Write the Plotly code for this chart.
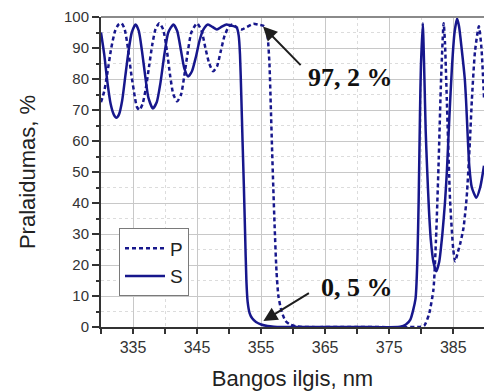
import plotly.graph_objects as go

# ---- data ----
p_x = [330.0, 330.5, 331.0, 331.6, 332.2, 332.7, 333.2, 333.7, 334.2, 334.7, 335.3, 335.6, 336.0, 336.5,
       337.0, 337.5, 338.0, 338.5, 339.1, 339.7, 340.3, 340.8, 341.3, 341.9, 342.5, 343.0, 343.5, 344.1,
       345.0, 345.7, 346.3, 346.9, 347.5, 348.1, 348.7, 349.3, 350.0, 350.6, 351.3, 352.0, 352.8, 353.8,
       354.6, 355.3, 355.7, 356.0, 356.3, 356.5, 356.7, 356.9, 357.1, 357.4, 357.7, 358.2, 358.8, 359.5,
       360.5, 361.5, 370.0, 380.0, 380.5, 381.2, 381.9, 382.3, 382.7, 383.1, 383.5, 383.7,
       384.0, 384.5, 385.0, 385.3, 385.7, 386.1, 386.6, 387.1, 387.6, 387.9, 388.4, 389.0, 389.4,
       389.8]
p_y = [72.5, 76, 82, 90, 95.5, 97.5, 98, 96, 90, 82, 74, 71, 70, 72,
       77, 84, 91, 96, 98, 96, 89, 81, 75, 72.8, 75, 81, 88, 95,
       98, 95.5, 90, 85, 82.5, 84, 89, 94, 97, 97.6, 96.5, 96, 96.8, 97.8,
       97.5, 97.2, 96.5, 94, 85, 72, 58, 45, 33, 18, 10, 5, 2, 0.8,
       0.2, 0, 0, 0.1, 0.5, 4, 12, 28, 52, 80, 98, 92,
       73, 41, 25, 21.2, 24, 27, 32, 42, 60, 73, 89, 97, 90,
       74]

s_x = [330.0, 330.5, 331.0, 331.5, 332.0, 332.4, 332.8, 333.3, 333.8, 334.3, 334.8, 335.4, 335.9, 336.4,
       336.9, 337.4, 338.1, 338.7, 339.3, 339.9, 340.5, 341.3, 341.9, 342.5, 343.0, 343.6, 344.2, 344.8,
       345.4, 346.0, 346.7, 347.4, 348.1, 348.8, 349.6, 350.3, 350.8, 351.2, 351.5, 351.7, 351.9, 352.1,
       352.3, 352.5, 352.7, 352.9, 353.2, 353.6, 354.2, 355.0, 356.0, 357.0, 358.0, 370.0, 376.7, 377.6,
       378.3, 379.1, 379.4, 379.6, 379.8, 379.95, 380.25, 380.35, 380.5, 380.7, 380.9, 381.2, 381.5,
       381.9, 382.35, 382.8, 383.3, 383.7, 384.0, 384.4, 384.8, 385.2, 385.6, 385.9, 386.3, 386.8, 387.0,
       387.5, 387.9, 388.6, 389.2, 389.8]
s_y = [95, 88, 79, 72, 68.5, 67.5, 68.5, 73, 81, 89, 95, 97.6, 95.5, 89,
       81, 74, 70.5, 72.5, 79, 88, 95, 97.6, 95.5, 89, 83.5, 80.8, 82.5, 87,
       92.5, 96, 97.6, 96.8, 96, 96.8, 97.6, 97.2, 97, 96.5, 94, 88, 75, 60,
       46, 30, 15, 8, 4.5, 2.8, 1.6, 0.8, 0.3, 0.1, 0, 0, 0.1, 0.8,
       2.4, 9, 22, 41, 68, 84, 98, 92, 80, 63, 52, 38, 28,
       21, 18, 21, 30, 40, 50, 68, 84, 95, 99.5, 97, 90, 80, 73,
       52, 45, 41.7, 45, 52]

x_ticks = [335, 345, 355, 365, 375, 385]
y_ticks = [0, 10, 20, 30, 40, 50, 60, 70, 80, 90, 100]

peak_label = "97, 2 %"
peak_head = (355.3, 96.9)
peak_tail = (361.4, 84.0)
peak_text_pos = (368.9, 80.5)

min_label = "0, 5 %"
min_head = (355.35, 1.9)
min_tail = (362.7, 11.2)
min_text_pos = (370.0, 12.7)

x_title = "Bangos ilgis, nm"
y_title = "Pralaidumas, %"

LINE = "#17178c"
FONT = "Liberation Sans, Arial, sans-serif"

fig = go.Figure()
fig.add_trace(go.Scatter(x=p_x, y=p_y, name="P", mode="lines",
                         line=dict(color=LINE, width=2.5, dash="4px,3px", shape="spline", smoothing=0.6)))
fig.add_trace(go.Scatter(x=s_x, y=s_y, name="S", mode="lines",
                         line=dict(color=LINE, width=2.5, shape="spline", smoothing=0.6)))

# arrows
for head, tail in [(peak_head, peak_tail), (min_head, min_tail)]:
    fig.add_annotation(x=head[0], y=head[1], ax=tail[0], ay=tail[1], axref="x", ayref="y",
                       xref="x", yref="y", text="", showarrow=True, arrowhead=2,
                       arrowsize=1.4, arrowwidth=2, arrowcolor="#1e1e1e")
for pos, label in [(peak_text_pos, peak_label), (min_text_pos, min_label)]:
    fig.add_annotation(x=pos[0], y=pos[1], xref="x", yref="y", text="<b>" + label + "</b>",
                       showarrow=False, font=dict(family="Liberation Serif, Times New Roman, serif",
                                                  size=26, color="#111111"))

# y-axis title placed as rotated text
fig.add_annotation(x=-0.193, y=0.5, xref="paper", yref="paper", text=y_title, textangle=-90,
                   showarrow=False, xanchor="center", yanchor="middle",
                   font=dict(family=FONT, size=22, color="#222222"))

# top border
fig.add_shape(type="line", xref="paper", yref="paper", x0=0, x1=1, y0=1, y1=1,
              line=dict(color="#8a8a8a", width=2))

fig.update_layout(
    width=484, height=392,
    margin=dict(l=101, r=0, t=17, b=65, autoexpand=False),
    paper_bgcolor="white", plot_bgcolor="white",
    font=dict(family=FONT, color="#222222"),
    showlegend=True,
    legend=dict(x=0.047, y=0.318, xanchor="left", yanchor="top",
                bgcolor="white", bordercolor="#7a7a7a", borderwidth=1,
                font=dict(family=FONT, size=19, color="#222222"),
                tracegroupgap=0, itemwidth=40),
    xaxis=dict(range=[330, 389.8], tickmode="array", tickvals=x_ticks,
               ticktext=[str(v) for v in x_ticks], automargin=False,
               showgrid=True, gridcolor="#c8c8c8", gridwidth=1.3,
               showline=True, linecolor="#333333", linewidth=2,
               ticks="outside", ticklen=5, tickwidth=1.5, tickcolor="#333333",
               tickfont=dict(size=16, color="#333333"),
               minor=dict(tickmode="array", tickvals=[330, 340, 350, 360, 370, 380],
                          showgrid=True, gridcolor="#dcdcdc", griddash="dot", gridwidth=1.3,
                          ticks="outside", ticklen=5, tickcolor="#333333"),
               title=dict(text=x_title, font=dict(size=22, color="#222222")),
               zeroline=False),
    yaxis=dict(range=[0, 100], tickmode="array", tickvals=y_ticks,
               ticktext=[str(v) for v in y_ticks], automargin=False,
               showgrid=True, gridcolor="#c8c8c8", gridwidth=1.3,
               showline=True, linecolor="#333333", linewidth=2,
               ticks="outside", ticklen=7, tickwidth=1.5, tickcolor="#333333",
               tickfont=dict(size=15, color="#333333"),
               minor=dict(tickmode="array", tickvals=[5, 15, 25, 35, 45, 55, 65, 75, 85, 95],
                          showgrid=True, gridcolor="#dcdcdc", griddash="dot", gridwidth=1.3,
                          ticks="outside", ticklen=3, tickcolor="#333333"),
               zeroline=False),
)

fig.write_html("out.html", config={"displayModeBar": False},
               post_script="document.body.style.margin='0';document.body.style.overflow='hidden';")
